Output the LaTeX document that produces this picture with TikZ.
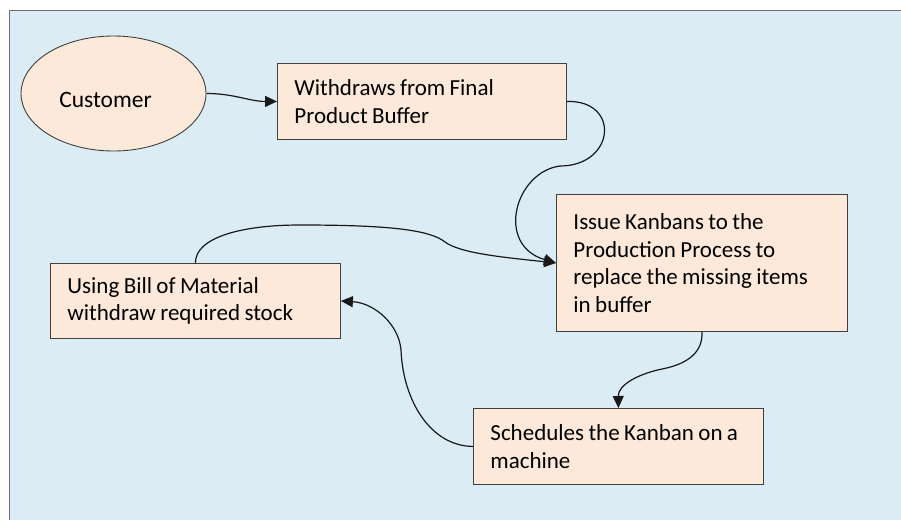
\documentclass[tikz,border=0pt]{standalone}
\usepackage{fontspec}
\setmainfont{Carlito}
\usetikzlibrary{shapes.geometric,arrows.meta}
\definecolor{bgblue}{RGB}{219,236,244}
\definecolor{peach}{RGB}{253,233,217}
\definecolor{edgegray}{RGB}{64,64,64}
\definecolor{framegray}{RGB}{110,110,110}
\newcommand\tsp{\spaceskip=4.4pt plus 1pt\relax}
\tikzset{
  stepbox/.style={draw=edgegray, line width=0.9pt, fill=peach, rectangle, anchor=north west,
    inner xsep=17pt, inner ysep=0pt, align=left, font=\fontsize{23}{27.5}\selectfont, text=black},
  custshape/.style={draw=edgegray, line width=0.9pt, fill=peach, ellipse, inner sep=0pt,
    minimum width=185pt, minimum height=115pt, font=\fontsize{23.5}{27.5}\selectfont, text=black},
  flow/.style={draw=black!90, line width=1.2pt, -{Triangle[length=12pt,width=11pt]}}
}
\begin{document}
\begin{tikzpicture}[x=1pt,y=-1pt]
\useasboundingbox (0,0) rectangle (901,519);
\fill[white] (0,0) rectangle (901,519);
\begin{scope}
\clip (0,0) rectangle (901,519);
\draw[framegray, line width=1pt, fill=bgblue] (9,11) rectangle (920,540);
\end{scope}

\node[custshape] (cust) at (113.5,93.5) {\raisebox{-6pt}[\height][\depth]{Customer}\hspace*{16pt}};
\node[stepbox, minimum width=289pt, minimum height=76pt, text width=255pt] (wd) at (277,63)
  {\tsp Withdraws from Final\\Product Buffer};
\node[stepbox, minimum width=291pt, minimum height=137pt, text width=257pt] (iss) at (556,194)
  {\tsp Issue Kanbans to the\\Production Process to\\replace the missing items\\in buffer};
\node[stepbox, minimum width=290pt, minimum height=75pt, text width=256pt] (ub) at (50,263)
  {\tsp Using Bill of Material\\withdraw required stock};
\node[stepbox, minimum width=290pt, minimum height=76pt, text width=256pt] (sc) at (473,408)
  {\tsp Schedules the Kanban on a\\machine};

\draw[flow] (cust.east) to[out=0,in=180] (wd.west);
\draw[flow] (wd.east) .. controls (621,100) and (615,166) .. (560,166)
  .. controls (515,172) and (495,245) .. (iss.west);
\draw[flow] (ub.north) .. controls (195,238) and (240,225) .. (300,225)
  .. controls (390,225) and (430,230) .. (445,242)
  .. controls (460,253) and (500,257) .. (iss.west);
\draw[flow] (iss.south) .. controls (703,352) and (688,364) .. (662,369)
  .. controls (638,374) and (618,385) .. (sc.north);
\draw[flow] (sc.west) .. controls (430,446) and (403,400) .. (401,350)
  .. controls (399,325) and (375,303) .. (ub.east);
\end{tikzpicture}
\end{document}
